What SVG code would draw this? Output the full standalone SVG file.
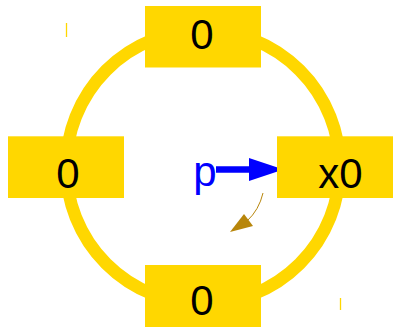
<svg xmlns="http://www.w3.org/2000/svg" width="393" height="328" viewBox="0 0 393 328">
<style>
.box{fill:#FFD700}
.lbl{font-family:"Liberation Sans",Arial,sans-serif;font-size:42px;fill:#000;text-anchor:middle}
.tick{stroke:#FFD700;stroke-width:1.3}
</style>
<defs>
<marker id="bluehead" markerUnits="userSpaceOnUse" markerWidth="36" markerHeight="24" refX="34" refY="11.5" orient="auto" viewBox="0 0 36 24">
<path d="M0,0 L34,11.5 L0,23 Z" fill="#0000FF"/>
</marker>
</defs>
<rect width="393" height="328" fill="#fff"/>
<g id="connectors">
<circle cx="203" cy="167" r="136.8" fill="none" stroke="#FFD700" stroke-width="12.5"/>
<line x1="216" y1="169.5" x2="250" y2="169.5" stroke="#0000FF" stroke-width="6.5"/>
<path d="M249,158 L283.5,169.5 L249,181 Z" fill="#0000FF"/>
<path d="M263,193 Q259,210 247,221" fill="none" stroke="#B8860B" stroke-width="1"/>
<path d="M230,232 L253,226 L244,214 Z" fill="#B8860B"/>
<line class="tick" x1="66.5" y1="23" x2="66.5" y2="37"/>
<line class="tick" x1="340.5" y1="298" x2="340.5" y2="310"/>
</g>
<g id="node-top">
<rect class="box" x="145" y="6" width="116" height="61.5"/>
<text class="lbl" x="202" y="49.3">0</text>
</g>
<g id="node-left">
<rect class="box" x="8" y="136.3" width="116" height="61.7"/>
<text class="lbl" x="68" y="187.5">0</text>
</g>
<g id="node-right">
<rect class="box" x="277" y="136.3" width="116" height="61.7"/>
<text class="lbl" x="340.5" y="187.5">x0</text>
</g>
<g id="node-bottom">
<rect class="box" x="145" y="265" width="116" height="62"/>
<text class="lbl" x="202" y="315">0</text>
</g>
<g id="pointer">
<text x="205" y="186" font-family="'Liberation Sans',Arial,sans-serif" font-size="42" fill="#0000FF" text-anchor="middle">p</text>
</g>
</svg>
